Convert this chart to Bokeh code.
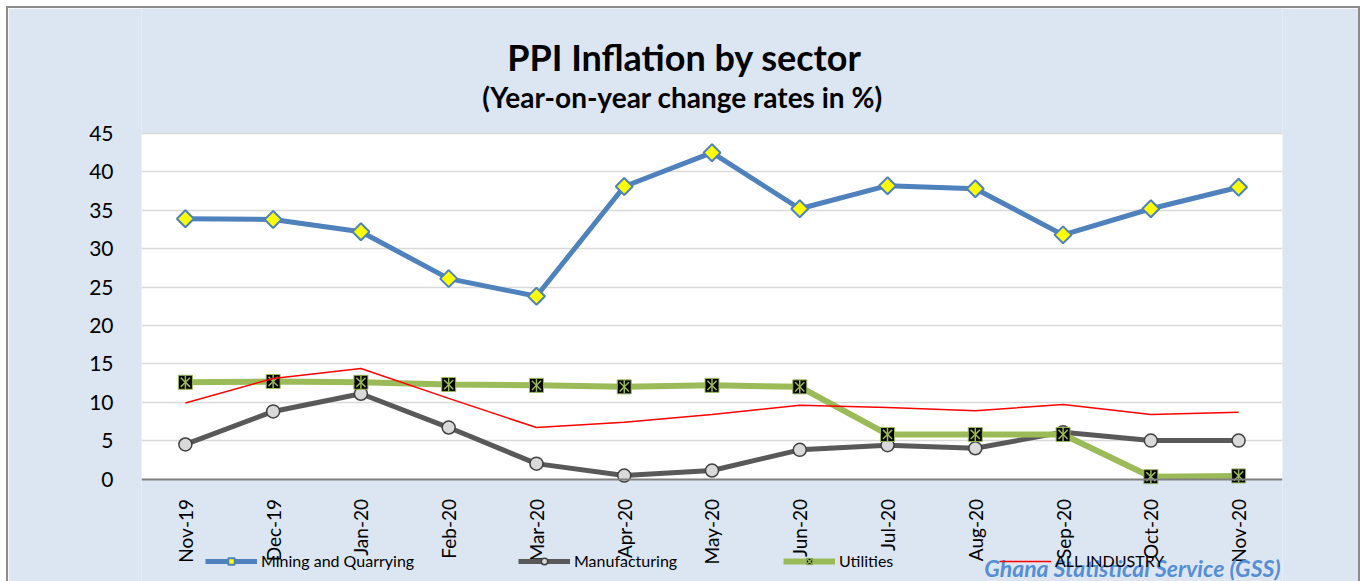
import math
from bokeh.plotting import figure
from bokeh.models import Label, Legend, LegendItem, FixedTicker, Range1d, BoxAnnotation
from bokeh.embed import file_html
from bokeh.resources import INLINE

categories = ["Nov-19", "Dec-19", "Jan-20", "Feb-20", "Mar-20", "Apr-20", "May-20",
              "Jun-20", "Jul-20", "Aug-20", "Sep-20", "Oct-20", "Nov-20"]
mining = [33.9, 33.8, 32.2, 26.1, 23.8, 38.1, 42.5, 35.2, 38.2, 37.8, 31.8, 35.2, 38.0]
manufacturing = [4.5, 8.8, 11.1, 6.7, 2.0, 0.45, 1.1, 3.8, 4.4, 4.0, 6.1, 5.0, 5.0]
utilities = [12.6, 12.7, 12.6, 12.3, 12.2, 12.0, 12.2, 12.0, 5.8, 5.8, 5.8, 0.3, 0.4]
all_industry = [9.9, 13.1, 14.4, 10.5, 6.7, 7.4, 8.4, 9.6, 9.3, 8.9, 9.7, 8.4, 8.7]
y_ticks = [0, 5, 10, 15, 20, 25, 30, 35, 40, 45]

FONT = "Lato"
BG = "#DCE6F2"

# frame spans the full canvas height; the white plot area is 0..45
p = figure(x_range=categories, y_range=Range1d(-13.35, 61.28), width=1350, height=573,
           output_backend="svg", toolbar_location=None,
           min_border_left=133, min_border_right=76, min_border_top=0, min_border_bottom=0)
p.margin = (8, 0, 0, 8)
p.styles = {"outline": "2px solid #8C8C8C"}
p.background_fill_color = BG
p.border_fill_color = BG
p.outline_line_color = None

p.add_layout(BoxAnnotation(bottom=0, top=45, fill_color="white", fill_alpha=1,
                           line_color=None, level="image"))

p.xgrid.grid_line_color = None
p.ygrid.grid_line_color = "#D9D9D9"
p.ygrid.grid_line_width = 1.5
p.ygrid.ticker = FixedTicker(ticks=y_ticks[1:])
p.yaxis.ticker = FixedTicker(ticks=y_ticks)
p.yaxis.axis_line_color = None
p.yaxis.major_tick_line_color = None
p.yaxis.minor_tick_line_color = None
p.yaxis.major_label_standoff = 22
p.yaxis.major_label_text_font = FONT
p.yaxis.major_label_text_font_size = "21px"
p.yaxis.major_label_text_color = "black"

p.xaxis.fixed_location = 0
p.xaxis.axis_line_color = "#808080"
p.xaxis.axis_line_width = 2
p.xaxis.major_tick_line_color = None
p.xaxis.minor_tick_line_color = None
p.xaxis.major_label_orientation = math.pi / 2
p.xaxis.major_label_standoff = 14
p.xaxis.major_label_text_font = FONT
p.xaxis.major_label_text_font_size = "19px"
p.xaxis.major_label_text_color = "black"

# Mining
l1 = p.line(categories, mining, line_color="#4F81BD", line_width=5)
m1 = p.scatter(categories, mining, marker="square", angle=math.pi / 4, size=12,
               fill_color="#FFFF00", line_color="#4F81BD", line_width=2)
# Manufacturing
l2 = p.line(categories, manufacturing, line_color="#595959", line_width=5)
m2 = p.scatter(categories, manufacturing, marker="circle", size=13, fill_color="#D9D9D9",
               line_color="#404040", line_width=1.5)
# Utilities
l3 = p.line(categories, utilities, line_color="#9BBB59", line_width=6)
m3 = p.scatter(categories, utilities, marker="square", size=14, fill_color="black",
               line_color="#9BBB59", line_width=1)
m3b = p.scatter(categories, utilities, marker="x", size=13, line_color="#9BBB59", line_width=1.5)
m3c = p.scatter(categories, utilities, marker="dash", size=13, angle=math.pi / 2,
                line_color="#9BBB59", line_width=1.5)
# All industry
l4 = p.line(categories, all_industry, line_color="#FF0000", line_width=1.5)

legend_specs = [
    ("Mining and Quarrying", [l1, m1], 64),
    ("Manufacturing", [l2, m2], 377),
    ("Utilities", [l3, m3, m3b], 642),
    ("ALL INDUSTRY", [l4], 858),
]
for label, rends, x in legend_specs:
    leg = Legend(items=[LegendItem(label=label, renderers=rends)], location=(x, 11),
                 orientation="horizontal", background_fill_alpha=0, border_line_color=None,
                 padding=0, margin=0, glyph_width=52, glyph_height=16, label_height=16,
                 label_standoff=4, label_text_font=FONT, label_text_font_size="16px",
                 label_text_color="black")
    p.add_layout(leg)

p.add_layout(Label(x=543, y=525, x_units="screen", y_units="screen", text="PPI Inflation by sector",
                   text_align="center", text_baseline="middle", text_font=FONT,
                   text_font_style="bold", text_font_size="36px", text_color="black"))
p.add_layout(Label(x=541, y=485, x_units="screen", y_units="screen",
                   text="(Year-on-year change rates in %)",
                   text_align="center", text_baseline="middle", text_font=FONT,
                   text_font_style="bold", text_font_size="28px", text_color="black"))
p.add_layout(Label(x=1139, y=14, x_units="screen", y_units="screen",
                   text="Ghana Statistical Service (GSS)",
                   text_align="right", text_baseline="alphabetic", text_font=FONT,
                   text_font_style="bold italic", text_font_size="23px", text_color="#558ED5"))

open("out.html", "w").write(file_html(p, INLINE))
